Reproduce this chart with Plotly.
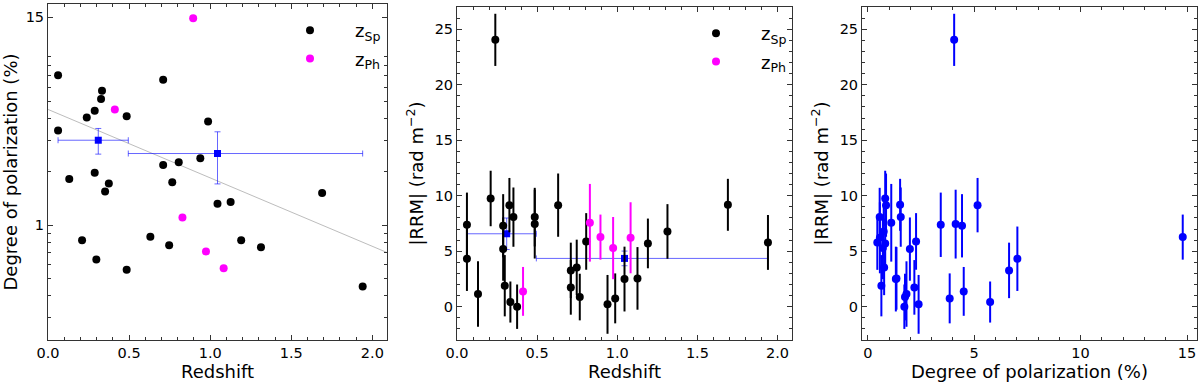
import numpy as np
import plotly.graph_objects as go

# sources with spectroscopic redshift (black)
sp_z = [0.062, 0.062, 0.131, 0.210, 0.239, 0.288, 0.288, 0.298, 0.327, 0.333,
        0.352, 0.375, 0.485, 0.485, 0.631, 0.710, 0.710, 0.747, 0.766, 0.806,
        0.939, 0.987, 1.045, 1.126, 1.191, 1.313, 1.690, 1.940]
sp_pol = [7.03, 3.43, 1.82, 0.82, 4.06, 4.43, 1.98, 0.64, 5.16, 5.75,
          1.55, 1.72, 0.56, 4.13, 0.86, 6.64, 2.19, 0.77, 1.75, 2.27,
          2.39, 3.85, 1.32, 1.35, 0.82, 0.75, 1.52, 0.45]
sp_rrm = [4.32, 7.38, 1.14, 9.75, 24.04, 7.29, 5.19, 1.89, 9.15, 0.42,
          8.07, 0.00, 8.07, 7.44, 9.15, 3.27, 1.74, 3.54, 0.87, 5.88,
          0.21, 0.75, 2.49, 2.55, 5.70, 6.78, 9.18, 5.79]
sp_rrm_err = [2.9, 2.9, 2.95, 2.5, 2.35, 2.85, 2.85, 2.76, 2.45, 1.85,
              2.67, 2.0, 2.64, 3.1, 2.85, 2.5, 2.46, 2.5, 2.1, 2.55,
              2.65, 2.25, 2.92, 2.82, 2.24, 2.46, 2.34, 2.47]

# sources with photometric redshift (magenta)
ph_z = [0.412, 0.829, 0.895, 0.974, 1.083]
ph_pol = [4.51, 1.105, 14.8, 0.71, 0.57]
ph_rrm = [1.38, 7.56, 6.27, 5.28, 6.21]
ph_rrm_err = [2.2, 3.5, 2.03, 2.8, 3.2]

# redshift bins
bin_lo = [0.062, 0.495]
bin_hi = [0.495, 1.940]
bin_z = [0.31, 1.045]
bin_pol = [3.02, 2.54]
bin_pol_err = [0.50, 0.83]
bin_rrm = [6.57, 4.35]
bin_rrm_err = [1.42, 0.66]

# trend line in the polarization panel
fit_z = [0.0, 2.09]
fit_pol = [4.51, 0.70]

FONT = "DejaVu Sans"
BLUE = "blue"
BIN_LINE = "rgba(0,0,255,0.6)"
MS = 8
SP_NAME = "z<sub>Sp</sub>"
PH_NAME = "z<sub>Ph</sub>"

bin_minus = [c - lo for c, lo in zip(bin_z, bin_lo)]
bin_plus = [hi - c for c, hi in zip(bin_z, bin_hi)]

fig = go.Figure()

# ---- panel 1: polarization vs redshift
fig.add_trace(go.Scatter(x=fit_z, y=fit_pol, mode="lines",
                         line=dict(color="#bdbdbd", width=1),
                         showlegend=False, xaxis="x", yaxis="y"))
fig.add_trace(go.Scatter(x=sp_z, y=sp_pol, mode="markers", name=SP_NAME,
                         marker=dict(color="black", size=MS),
                         legend="legend", legendgroup="sp1", xaxis="x", yaxis="y"))
fig.add_trace(go.Scatter(x=ph_z, y=ph_pol, mode="markers", name=PH_NAME,
                         marker=dict(color="magenta", size=MS),
                         legend="legend", legendgroup="ph1", xaxis="x", yaxis="y"))
fig.add_trace(go.Scatter(x=bin_z, y=bin_pol, mode="markers",
                         marker=dict(color=BLUE, size=MS - 1, symbol="square"),
                         error_x=dict(type="data", symmetric=False, array=bin_plus,
                                      arrayminus=bin_minus, color=BIN_LINE, thickness=1, width=3),
                         error_y=dict(type="data", array=bin_pol_err,
                                      color=BIN_LINE, thickness=1, width=3),
                         showlegend=False, xaxis="x", yaxis="y"))

# ---- panel 2: |RRM| vs redshift
fig.add_trace(go.Scatter(x=bin_z, y=bin_rrm, mode="markers",
                         marker=dict(color=BLUE, size=MS - 1, symbol="square"),
                         error_x=dict(type="data", symmetric=False, array=bin_plus,
                                      arrayminus=bin_minus, color=BIN_LINE, thickness=1, width=3),
                         error_y=dict(type="data", array=bin_rrm_err,
                                      color=BIN_LINE, thickness=1, width=3),
                         showlegend=False, xaxis="x2", yaxis="y2"))
fig.add_trace(go.Scatter(x=sp_z, y=sp_rrm, mode="markers", name=SP_NAME,
                         marker=dict(color="black", size=MS),
                         error_y=dict(type="data", array=sp_rrm_err, color="black",
                                      thickness=2, width=0),
                         legend="legend2", legendgroup="sp2", xaxis="x2", yaxis="y2"))
fig.add_trace(go.Scatter(x=ph_z, y=ph_rrm, mode="markers", name=PH_NAME,
                         marker=dict(color="magenta", size=MS),
                         error_y=dict(type="data", array=ph_rrm_err, color="magenta",
                                      thickness=2, width=0),
                         legend="legend2", legendgroup="ph2", xaxis="x2", yaxis="y2"))

# ---- panel 3: |RRM| vs polarization
fig.add_trace(go.Scatter(x=sp_pol + ph_pol, y=sp_rrm + ph_rrm, mode="markers",
                         marker=dict(color=BLUE, size=MS),
                         error_y=dict(type="data", array=sp_rrm_err + ph_rrm_err,
                                      color=BLUE, thickness=2, width=0),
                         showlegend=False, xaxis="x3", yaxis="y3"))

W, H = 1200, 384
top1, top23, bottom = 4, 7, 340
dom_y1 = [1 - bottom / H, 1 - top1 / H]
dom_y23 = [1 - bottom / H, 1 - top23 / H]

frame = dict(showline=True, linecolor="#333", linewidth=1, mirror="allticks",
             ticks="inside", ticklen=5, tickcolor="#333", showgrid=False,
             zeroline=False, automargin=False,
             tickfont=dict(size=14.5, color="black"),
             title_font=dict(size=18, color="black"))


def lin_minor(step):
    return dict(dtick=step, ticks="inside", ticklen=3, tickcolor="#333", showgrid=False)


log_minor_vals = [0.3, 0.4, 0.5, 0.6, 0.7, 0.8, 0.9, 2, 3, 4, 5, 6, 7, 8, 9]

legend_style = dict(xanchor="left", yanchor="top", bgcolor="rgba(0,0,0,0)",
                    borderwidth=0, font=dict(size=18), itemwidth=80, tracegroupgap=2)

fig.update_layout(
    width=W, height=H, margin=dict(l=0, r=0, t=0, b=0),
    paper_bgcolor="white", plot_bgcolor="white",
    font=dict(family=FONT, color="black"),
    xaxis=dict(frame, domain=[48 / W, 387 / W], range=[0, 2.09], dtick=0.5,
               tickformat=".1f", minor=lin_minor(0.1),
               title=dict(text="Redshift", standoff=4)),
    yaxis=dict(frame, domain=dom_y1, type="log", range=[np.log10(0.224), np.log10(17.8)],
               tickvals=[1, 15], ticktext=["1", "15"],
               minor=dict(tickmode="array", tickvals=log_minor_vals, ticks="inside",
                          ticklen=3, tickcolor="#333", showgrid=False),
               title=dict(text="Degree of polarization (%)", standoff=6)),
    xaxis2=dict(frame, domain=[457 / W, 792 / W], range=[0, 2.09], dtick=0.5,
                tickformat=".1f", minor=lin_minor(0.1), anchor="y2",
                title=dict(text="Redshift", standoff=4)),
    yaxis2=dict(frame, domain=dom_y23, range=[-3, 27], dtick=5, minor=lin_minor(1),
                anchor="x2", title=dict(text="|RRM| (rad m<sup>−2</sup>)", standoff=6)),
    xaxis3=dict(frame, domain=[862 / W, 1197 / W], range=[-0.27, 15.47], dtick=5,
                minor=lin_minor(1), anchor="y3",
                title=dict(text="Degree of polarization (%)", standoff=4)),
    yaxis3=dict(frame, domain=dom_y23, range=[-3, 27], dtick=5, minor=lin_minor(1),
                anchor="x3", title=dict(text="|RRM| (rad m<sup>−2</sup>)", standoff=6)),
    legend=dict(legend_style, x=265 / W, y=1 - 12 / H),
    legend2=dict(legend_style, x=671 / W, y=1 - 15 / H),
)

# the page's body margin would shift the figure; drop it
fig.write_html("out.html", config={"displayModeBar": False},
               post_script="document.body.style.margin='0';")
